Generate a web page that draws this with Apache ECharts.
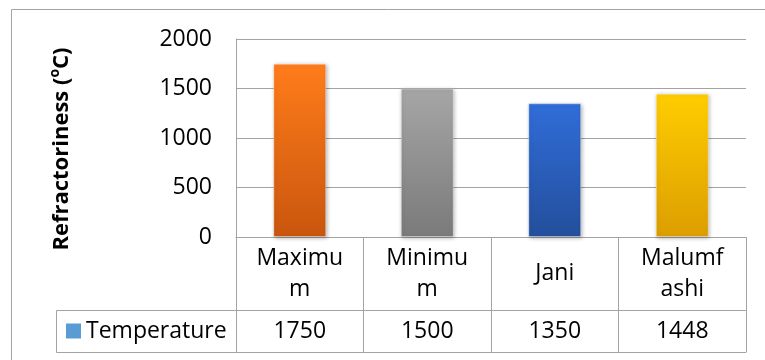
<!DOCTYPE html>
<html>
<head>
<meta charset="utf-8">
<script src="https://cdn.jsdelivr.net/npm/echarts@6/dist/echarts.min.js"></script>
<style>
  html, body { margin: 0; padding: 0; background: #fff; }
  #chart { width: 765px; height: 360px; }
</style>
</head>
<body>
<div id="chart"></div>
<script>
// Refractoriness of clay samples
const categories = ['Maximum', 'Minimum', 'Jani', 'Malumfashi'];
const temperatures = [1750, 1500, 1350, 1448];
const seriesName = 'Temperature';
const yMin = 0, yMax = 2000, yStep = 500;

// per-bar gradient palette [top, bottom]
const barPalette = [
  ['#FF7C1A', '#C9560E'],
  ['#A6A6A6', '#7A7A7A'],
  ['#306DD8', '#234F9C'],
  ['#FFCD00', '#DC9E00']
];

const FONT = '"Open Sans", sans-serif';
const LINE = '#A3A3A3';

// plot frame
const gridLeft = 236, gridRight = 19, gridTop = 39, gridBottom = 123;
const headerRow = 73, valueRow = 42;
const plotBottomY = 360 - gridBottom;

const chart = echarts.init(document.getElementById('chart'), null, { renderer: 'canvas' });

const option = {
  backgroundColor: '#fff',
  animation: false,
  textStyle: { fontFamily: FONT },
  grid: { left: gridLeft, right: gridRight, top: gridTop, bottom: gridBottom, containLabel: false },
  legend: {
    data: [seriesName],
    left: 66,
    top: plotBottomY + headerRow + valueRow / 2 - 11.5,
    padding: 0,
    itemWidth: 15,
    itemHeight: 15,
    icon: 'rect',
    textStyle: { fontFamily: FONT, fontSize: 23, color: '#000', lineHeight: 23 }
  },
  xAxis: [
    {
      type: 'category',
      data: categories,
      axisLine: { show: true, lineStyle: { color: LINE, width: 1 } },
      axisTick: { show: true, length: headerRow + valueRow, lineStyle: { color: LINE, width: 1 } },
      axisLabel: {
        fontFamily: FONT, fontSize: 23, color: '#000',
        width: 90, overflow: 'breakAll', lineHeight: 31,
        verticalAlign: 'middle', margin: headerRow / 2,
        interval: 0
      },
      splitLine: { show: false }
    },
    {
      type: 'category',
      data: categories,
      position: 'bottom',
      offset: headerRow,
      axisLine: { show: true, lineStyle: { color: LINE, width: 1 } },
      axisTick: { show: false },
      axisLabel: {
        fontFamily: FONT, fontSize: 23, color: '#000',
        verticalAlign: 'middle', margin: valueRow / 2, interval: 0,
        formatter: (v, i) => String(temperatures[i])
      }
    },
    {
      type: 'category',
      data: categories,
      position: 'bottom',
      offset: headerRow + valueRow,
      axisLine: { show: true, lineStyle: { color: LINE, width: 1 } },
      axisTick: { show: false },
      axisLabel: { show: false }
    }
  ],
  yAxis: {
    type: 'value',
    min: yMin, max: yMax, interval: yStep,
    name: '{b|Refractoriness (}{s|o}{b|C)}',
    nameLocation: 'middle',
    nameGap: 160,
    nameTextStyle: {
      padding: [0, 22, 0, 0],
      rich: {
        b: { fontFamily: FONT, fontSize: 22, fontWeight: 'bold', color: '#000', lineHeight: 28 },
        s: { fontFamily: FONT, fontSize: 14, fontWeight: 'bold', color: '#000', lineHeight: 15, verticalAlign: 'top' }
      }
    },
    axisLine: { show: true, lineStyle: { color: LINE, width: 1 } },
    axisTick: { show: false },
    axisLabel: { fontFamily: FONT, fontSize: 23, color: '#000', margin: 24, formatter: v => String(v) },
    splitLine: { show: true, lineStyle: { color: LINE, width: 1 } }
  },
  series: [{
    name: seriesName,
    type: 'bar',
    barWidth: '41.5%',
    itemStyle: { color: '#5B9BD5' },
    data: temperatures.map((v, i) => ({
      value: v,
      itemStyle: {
        color: new echarts.graphic.LinearGradient(0, 0, 0, 1, [
          { offset: 0, color: barPalette[i][0] },
          { offset: 1, color: barPalette[i][1] }
        ]),
        borderColor: 'rgba(255,255,255,0.35)',
        borderWidth: 1,
        shadowBlur: 4,
        shadowColor: 'rgba(0,0,0,0.3)',
        shadowOffsetX: 1,
        shadowOffsetY: 1
      }
    }))
  }],
  graphic: [
    {
      type: 'rect', silent: true, z: -1,
      shape: { x: 11.5, y: 9.5, width: 800, height: 400 },
      style: { fill: null, stroke: LINE, lineWidth: 1 }
    },
    {
      type: 'rect', silent: true,
      shape: { x: 56.5, y: plotBottomY + headerRow + 0.5, width: gridLeft - 56, height: valueRow },
      style: { fill: null, stroke: LINE, lineWidth: 1 }
    }
  ]
};

chart.setOption(option);
</script>
</body>
</html>
